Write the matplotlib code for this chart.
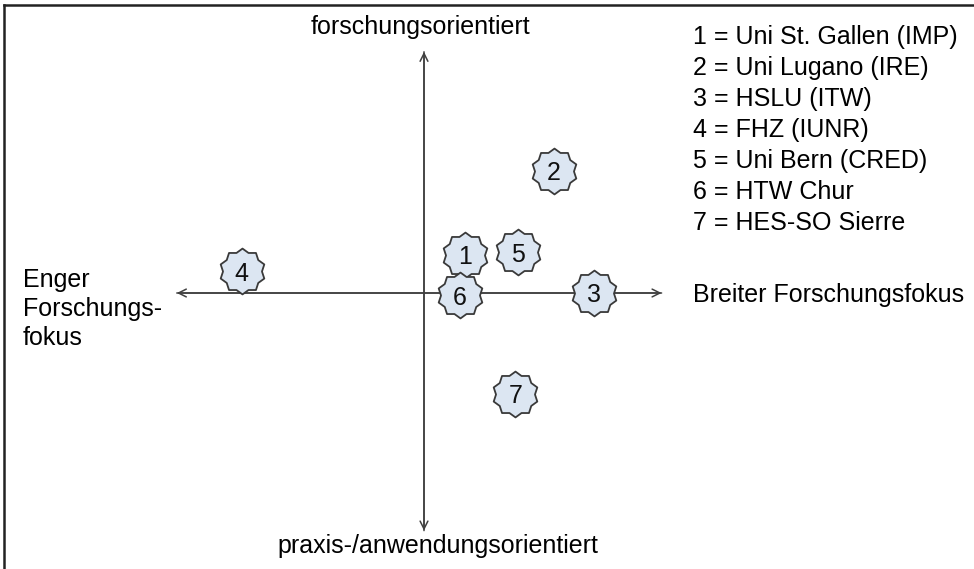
import numpy as np
import matplotlib.pyplot as plt
from matplotlib.path import Path

plt.rcParams['font.family'] = ['Liberation Sans', 'DejaVu Sans']

# --- data: positions relative to the cross (axis arms = 1) ---
ids = [1, 2, 3, 4, 5, 6, 7]
x_pos = [0.17, 0.54, 0.71, -0.76, 0.39, 0.15, 0.38]
y_pos = [0.16, 0.51, 0.0, 0.09, 0.17, -0.01, -0.42]
names = ["Uni St. Gallen (IMP)", "Uni Lugano (IRE)", "HSLU (ITW)", "FHZ (IUNR)",
         "Uni Bern (CRED)", "HTW Chur", "HES-SO Sierre"]
label_top = "forschungsorientiert"
label_bottom = "praxis-/anwendungsorientiert"
label_left = "Enger\nForschungs-\nfokus"
label_right = "Breiter Forschungsfokus"

# seal-like marker with 10 points
n_pts = 10
ang = np.linspace(0, 2 * np.pi, 2 * n_pts, endpoint=False) + np.pi / 2
rad = np.where(np.arange(2 * n_pts) % 2 == 0, 1.0, 0.85)
verts = np.column_stack([rad * np.cos(ang), rad * np.sin(ang)])
verts = np.vstack([verts, verts[:1]])
codes = [Path.MOVETO] + [Path.LINETO] * (2 * n_pts - 1) + [Path.CLOSEPOLY]
seal = Path(verts, codes)

fig = plt.figure(figsize=(9.74, 5.69), dpi=100)
ax = fig.add_axes([0, 0, 1, 1])
unit = 240.0  # pixels per axis unit
ax.set_xlim(-424 / unit, (974 - 424) / unit)
ax.set_ylim(-(569 - 293) / unit, 293 / unit)
ax.axis('off')

# frame (top and left edges only visible)
fig.add_artist(plt.Line2D([4 / 974, 1], [1 - 5 / 569, 1 - 5 / 569], color='#222222', lw=1.8))
fig.add_artist(plt.Line2D([4 / 974, 4 / 974], [0, 1 - 5 / 569], color='#222222', lw=1.8))

arrow_kw = dict(arrowstyle='->', color='#404040', lw=1.1, mutation_scale=14, shrinkA=0, shrinkB=0)
ax.annotate('', xy=(-1.03, 0), xytext=(0.99, 0), arrowprops=arrow_kw)
ax.annotate('', xy=(0.99, 0), xytext=(-1.03, 0), arrowprops=arrow_kw)
ax.annotate('', xy=(0, 1.005), xytext=(0, -0.99), arrowprops=arrow_kw)
ax.annotate('', xy=(0, -0.99), xytext=(0, 1.005), arrowprops=arrow_kw)

ax.plot(x_pos, y_pos, linestyle='none', marker=seal, markersize=33,
        markerfacecolor='#dce6f2', markeredgecolor='#3a3a3a', markeredgewidth=1.3, zorder=3)
for i, xv, yv in zip(ids, x_pos, y_pos):
    ax.text(xv, yv - 0.01, str(i), ha='center', va='center', fontsize=18, color='#111111', zorder=4)

fs = 18
ax.text(-4 / unit, 266 / unit, label_top, ha='center', va='center', fontsize=fs)
ax.text(14 / unit, -253 / unit, label_bottom, ha='center', va='center', fontsize=fs)
ax.text(-401 / unit, -16 / unit, label_left, ha='left', va='center', fontsize=fs, linespacing=1.26)
ax.text(269 / unit, -2 / unit, label_right, ha='left', va='center', fontsize=fs)

for k, (i, nm) in enumerate(zip(ids, names)):
    ax.text(269 / unit, (256 - 31 * k) / unit, f"{i} = {nm}", ha='left', va='center', fontsize=fs)

fig.savefig("out.png", dpi=100)
